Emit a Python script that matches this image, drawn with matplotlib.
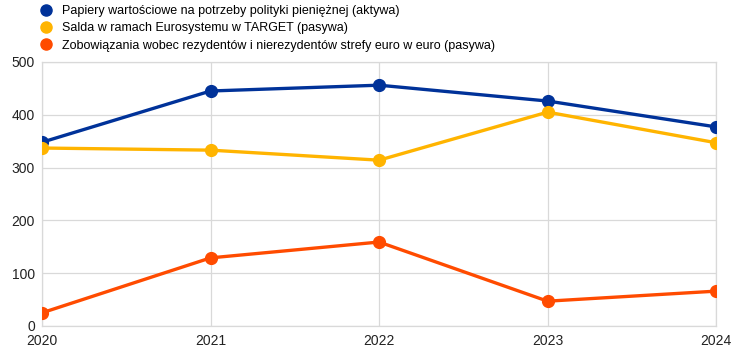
import matplotlib.pyplot as plt
from matplotlib.lines import Line2D

plt.rcParams['font.family'] = ['Liberation Sans', 'DejaVu Sans']

years = [2020, 2021, 2022, 2023, 2024]
papiery = [348, 445, 456, 426, 377]
salda = [337, 333, 314, 405, 347]
zobowiazania = [25, 129, 159, 47, 66]

labels = [
    "Papiery wartościowe na potrzeby polityki pieniężnej (aktywa)",
    "Salda w ramach Eurosystemu w TARGET (pasywa)",
    "Zobowiązania wobec rezydentów i nierezydentów strefy euro w euro (pasywa)",
]
colors = ["#003299", "#FFB400", "#FF4B00"]

fig = plt.figure(figsize=(7.44, 3.53), dpi=100)
ax = fig.add_axes([0.0565, 0.0765, 0.906, 0.748])

for vals, c in zip([papiery, salda, zobowiazania], colors):
    ax.plot(years, vals, color=c, lw=2.4, marker="o", markersize=8.5, zorder=3)

ax.set_xlim(2020, 2024)
ax.set_ylim(0, 500)
ax.set_xticks(years)
ax.set_yticks(range(0, 501, 100))
ax.grid(True, color="#d9d9d9", lw=0.9)
for s in ax.spines.values():
    s.set_color("#d9d9d9")
    s.set_linewidth(0.9)
ax.tick_params(length=0, labelsize=10, colors="#222222", pad=5)
ax.tick_params(axis="x", pad=6)

handles = [Line2D([], [], ls="none", marker="o", markersize=8, color=c) for c in colors]
fig.legend(handles, labels, loc="upper left", bbox_to_anchor=(0.045, 1.0),
           frameon=False, fontsize=9, handletextpad=0.7, labelspacing=0.42,
           handlelength=1.2, borderaxespad=0)

fig.savefig("out.png", dpi=100)
